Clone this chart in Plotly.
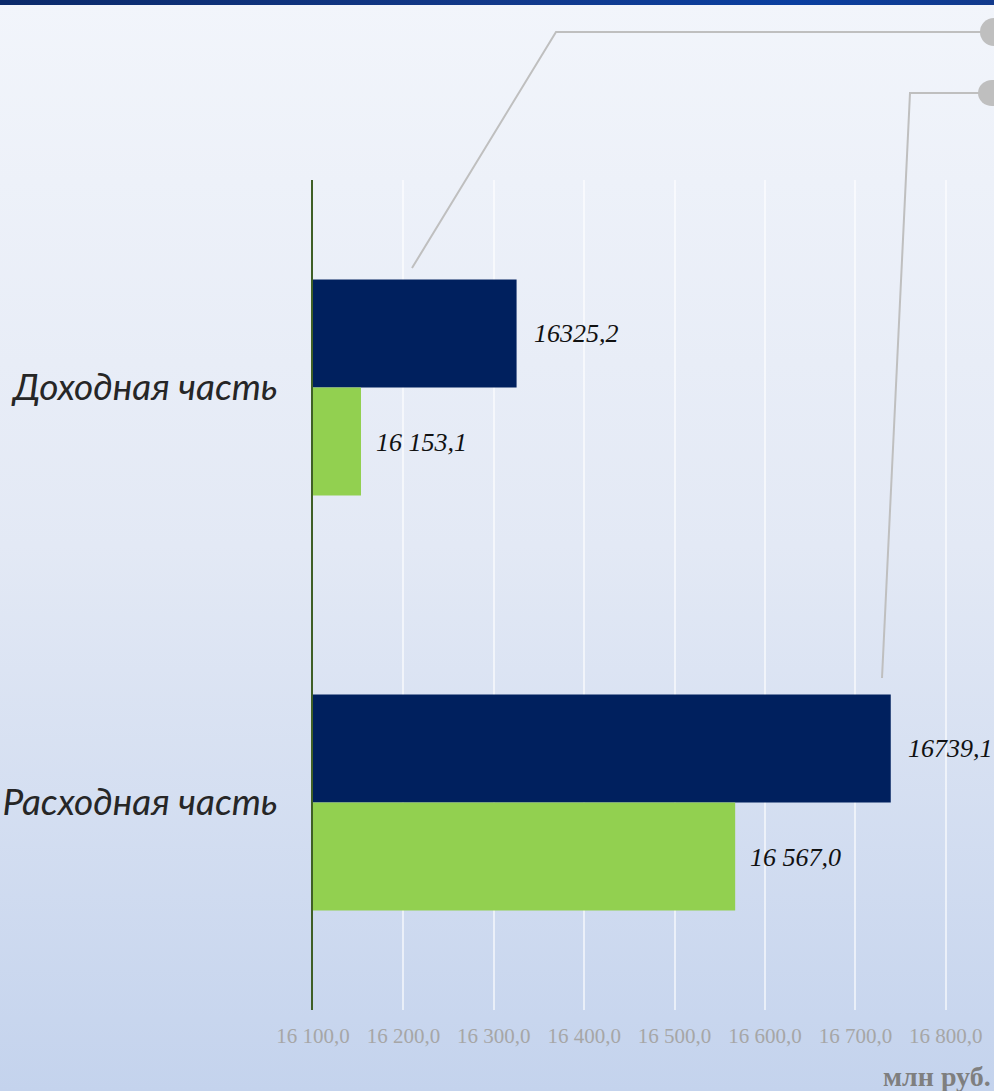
import base64
import plotly.graph_objects as go

# ---- data ----
categories = ["Доходная часть", "Расходная часть"]
series_dark = [16325.2, 16739.1]
series_green = [16153.1, 16567.0]
labels_dark = ["16325,2", "16739,1"]
labels_green = ["16 153,1", "16 567,0"]
tick_vals = [16100, 16200, 16300, 16400, 16500, 16600, 16700, 16800]
tick_text = ["16 100,0", "16 200,0", "16 300,0", "16 400,0", "16 500,0",
             "16 600,0", "16 700,0", "16 800,0"]
unit_label = "млн руб."

W, H = 994, 1091
ML, MR, MT, MB = 313, 0, 180, 81
PW, PH = W - ML - MR, H - MT - MB

def px(xp):
    return (xp - ML) / PW

def py(yp):
    return (H - MB - yp) / PH

# background gradient as svg data uri
svg = f'''<svg xmlns="http://www.w3.org/2000/svg" width="{W}" height="{H}" preserveAspectRatio="none">
<defs>
<linearGradient id="g" x1="0" y1="0" x2="0" y2="1">
<stop offset="0" stop-color="#f2f5fb"/>
<stop offset="0.5" stop-color="#e3e9f5"/>
<stop offset="1" stop-color="#c4d3ed"/>
</linearGradient>
<linearGradient id="b" x1="0" y1="0" x2="1" y2="0">
<stop offset="0" stop-color="#0b2a6a"/>
<stop offset="0.5" stop-color="#12398a"/>
<stop offset="0.8" stop-color="#0a3fa0"/>
<stop offset="1" stop-color="#123a8c"/>
</linearGradient>
</defs>
<rect x="0" y="0" width="{W}" height="{H}" fill="url(#g)"/>
<rect x="0" y="0" width="{W}" height="5" fill="url(#b)"/>
</svg>'''
bg_uri = "data:image/svg+xml;base64," + base64.b64encode(svg.encode()).decode()

fig = go.Figure()
fig.add_trace(go.Bar(y=categories, x=series_dark, orientation="h",
                     marker=dict(color="#00205e", line=dict(width=0)),
                     name="dark", hoverinfo="skip"))
fig.add_trace(go.Bar(y=categories, x=series_green, orientation="h",
                     marker=dict(color="#92d050", line=dict(width=0)),
                     name="green", hoverinfo="skip"))

base_val = tick_vals[0]
annotations = []
val_font = dict(family="Liberation Serif", size=26, color="#111111")
for i, c in enumerate(categories):
    annotations.append(dict(x=series_dark[i], y=c, xref="x", yref="y",
                            text=f"<i>{labels_dark[i]}</i>", showarrow=False,
                            xanchor="left", yanchor="middle", xshift=15,
                            yshift=54, font=val_font))
    annotations.append(dict(x=series_green[i], y=c, xref="x", yref="y",
                            text=f"<i>{labels_green[i]}</i>", showarrow=False,
                            xanchor="left", yanchor="middle", xshift=13,
                            yshift=-55, font=val_font))
annotations.append(dict(x=1, y=py(1076), xref="paper", yref="paper",
                        text=f"<b>{unit_label}</b>", showarrow=False,
                        xanchor="right", yanchor="middle", xshift=-1,
                        font=dict(family="Liberation Serif", size=28, color="#7f7f7f")))

line_style = dict(color="#bfbfbf", width=2)
shapes = [
    dict(type="path", xref="paper", yref="paper",
         path=f"M {px(412)} {py(268)} L {px(556)} {py(32)} L {px(985)} {py(32)}",
         line=line_style, layer="above"),
    dict(type="path", xref="paper", yref="paper",
         path=f"M {px(882)} {py(678)} L {px(910)} {py(93)} L {px(985)} {py(93)}",
         line=line_style, layer="above"),
    dict(type="circle", xref="paper", yref="paper", xsizemode="pixel", ysizemode="pixel",
         xanchor=px(994), yanchor=py(32), x0=-14, x1=14, y0=-14, y1=14,
         fillcolor="#bfbfbf", line=dict(width=0)),
    dict(type="circle", xref="paper", yref="paper", xsizemode="pixel", ysizemode="pixel",
         xanchor=px(992), yanchor=py(93), x0=-14, x1=14, y0=-13, y1=13,
         fillcolor="#bfbfbf", line=dict(width=0)),
]

fig.update_layout(
    width=W, height=H,
    margin=dict(l=ML, r=MR, t=MT, b=MB, pad=0),
    paper_bgcolor="#e3e9f5", plot_bgcolor="rgba(0,0,0,0)",
    barmode="group", bargap=0.48, bargroupgap=0,
    showlegend=False,
    images=[dict(source=bg_uri, xref="paper", yref="paper",
                 x=px(0), y=py(0), sizex=px(W) - px(0), sizey=py(0) - py(H),
                 xanchor="left", yanchor="top", sizing="stretch", layer="below")],
    annotations=annotations,
    shapes=shapes,
    xaxis=dict(range=[base_val, base_val + PW / 0.904], tickvals=tick_vals, ticktext=tick_text,
               showgrid=True, gridcolor="rgba(255,255,255,0.6)", gridwidth=2,
               zeroline=False, showline=False, ticks="",
               ticklabelstandoff=11,
               tickfont=dict(family="Liberation Serif", size=21, color="#a6a6a6")),
    yaxis=dict(autorange="reversed", showline=True, linecolor="#3f5f26", linewidth=2,
               showgrid=False, ticks="", ticklabelstandoff=26,
               tickfont=dict(family="Lato", size=37, color="#262626", style="italic")),
)

fig.write_html("out.html", config={"displayModeBar": False},
               post_script="document.body.style.margin='0px';document.body.style.overflow='hidden';")
